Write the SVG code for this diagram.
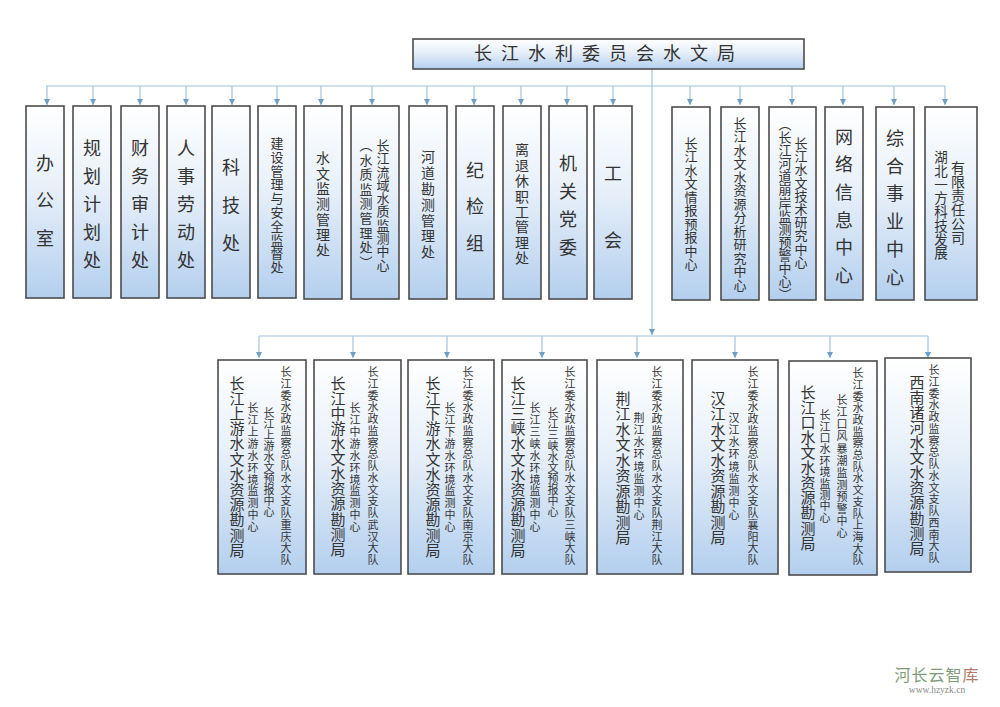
<svg xmlns="http://www.w3.org/2000/svg" width="1000" height="707" viewBox="0 0 1000 707">
<style>
.box{fill:url(#g);stroke:#4d4d4d;stroke-width:1.6}
.v{font-family:"Noto Sans CJK SC","Noto Sans CJK TC",sans-serif;fill:#333;writing-mode:vertical-rl;text-anchor:start}
.t{font-family:"Noto Sans CJK SC",sans-serif;fill:#333;font-size:18px}
.c{fill:none;stroke:#9fc3de;stroke-width:1.2}
.a{fill:none;stroke:#9fc3de;stroke-width:1.2;marker-end:url(#ah)}
</style>
<defs>
<linearGradient id="g" x1="0" y1="0" x2="0" y2="1">
<stop offset="0" stop-color="#ffffff"/>
<stop offset="0.45" stop-color="#e6eff9"/>
<stop offset="1" stop-color="#b3cfee"/>
</linearGradient>
<marker id="ah" markerUnits="userSpaceOnUse" markerWidth="7" markerHeight="7" refX="6" refY="3" orient="auto">
<path d="M0,0 L6,3 L0,6 z" fill="#6d9ec6"/>
</marker>
</defs>
<rect width="1000" height="707" fill="#ffffff"/>

<g id="connectors">
<line class="a" x1="652" y1="69" x2="652" y2="335"/>
<line class="c" x1="46" y1="86" x2="945" y2="86"/>
<line class="a" x1="47" y1="86" x2="47" y2="105"/>
<line class="a" x1="93" y1="86" x2="93" y2="105"/>
<line class="a" x1="140" y1="86" x2="140" y2="105"/>
<line class="a" x1="186" y1="86" x2="186" y2="105"/>
<line class="a" x1="232" y1="86" x2="232" y2="105"/>
<line class="a" x1="277" y1="86" x2="277" y2="105"/>
<line class="a" x1="321" y1="86" x2="321" y2="105"/>
<line class="a" x1="372" y1="86" x2="372" y2="105"/>
<line class="a" x1="427" y1="86" x2="427" y2="105"/>
<line class="a" x1="474" y1="86" x2="474" y2="105"/>
<line class="a" x1="521" y1="86" x2="521" y2="105"/>
<line class="a" x1="567" y1="86" x2="567" y2="105"/>
<line class="a" x1="613" y1="86" x2="613" y2="105"/>
<line class="a" x1="690" y1="86" x2="690" y2="105"/>
<line class="a" x1="740" y1="86" x2="740" y2="105"/>
<line class="a" x1="792" y1="86" x2="792" y2="105"/>
<line class="a" x1="843" y1="86" x2="843" y2="105"/>
<line class="a" x1="894" y1="86" x2="894" y2="105"/>
<line class="a" x1="945" y1="86" x2="945" y2="105"/>
<line class="c" x1="259" y1="336" x2="928" y2="336"/>
<line class="a" x1="259" y1="336" x2="259" y2="358"/>
<line class="a" x1="353" y1="336" x2="353" y2="358"/>
<line class="a" x1="447" y1="336" x2="447" y2="358"/>
<line class="a" x1="542" y1="336" x2="542" y2="358"/>
<line class="a" x1="637" y1="336" x2="637" y2="358"/>
<line class="a" x1="735" y1="336" x2="735" y2="358"/>
<line class="a" x1="830" y1="336" x2="830" y2="358"/>
<line class="a" x1="928" y1="336" x2="928" y2="358"/>
</g>

<g id="title">
<rect class="box" x="413" y="39" width="391" height="30"/>
<text class="t" x="609" y="60" text-anchor="middle" letter-spacing="9">长江水利委员会水文局</text>
</g>

<g id="n1"><rect class="box" x="26" y="106" width="38" height="192"/>
<text class="v" x="45" y="154" font-size="18" letter-spacing="19.5">办公室</text></g>
<g id="n2"><rect class="box" x="73" y="106" width="38" height="192"/>
<text class="v" x="92" y="139" font-size="18" letter-spacing="10">规划计划处</text></g>
<g id="n3"><rect class="box" x="121" y="106" width="38" height="192"/>
<text class="v" x="140" y="139" font-size="18" letter-spacing="10">财务审计处</text></g>
<g id="n4"><rect class="box" x="167" y="106" width="38" height="192"/>
<text class="v" x="186" y="139" font-size="18" letter-spacing="10">人事劳动处</text></g>
<g id="n5"><rect class="box" x="212" y="106" width="38" height="192"/>
<text class="v" x="231" y="158" font-size="18" letter-spacing="20">科技处</text></g>
<g id="n6"><rect class="box" x="258" y="106" width="38" height="192"/>
<text class="v" x="277" y="136.5" font-size="13" letter-spacing="0.8">建设管理与安全监督处</text></g>
<g id="n7"><rect class="box" x="304" y="106" width="38" height="193"/>
<text class="v" x="323" y="151" font-size="14" letter-spacing="1.3">水文监测管理处</text></g>
<g id="n8"><rect class="box" x="351" y="106" width="48" height="193"/>
<text class="v" x="383" y="138.5" font-size="13" letter-spacing="0.3">长江流域水质监测中心</text>
<text class="v" x="366" y="138.5" font-size="13" letter-spacing="1.6">（水质监测管理处）</text></g>
<g id="n9"><rect class="box" x="409" y="106" width="38" height="193"/>
<text class="v" x="428" y="150" font-size="14" letter-spacing="1.8">河道勘测管理处</text></g>
<g id="n10"><rect class="box" x="456" y="106" width="38" height="193"/>
<text class="v" x="475" y="161" font-size="18" letter-spacing="18.5">纪检组</text></g>
<g id="n11"><rect class="box" x="503" y="106" width="38" height="193"/>
<text class="v" x="522" y="143" font-size="14" letter-spacing="1.4">离退休职工管理处</text></g>
<g id="n12"><rect class="box" x="549" y="106" width="38" height="193"/>
<text class="v" x="568" y="154" font-size="18" letter-spacing="10">机关党委</text></g>
<g id="n13"><rect class="box" x="594" y="106" width="38" height="193"/>
<text class="v" x="613" y="164" font-size="18" letter-spacing="49">工会</text></g>
<g id="n14"><rect class="box" x="672" y="107" width="38" height="193"/>
<text class="v" x="691" y="136.5" font-size="13" letter-spacing="0.5">长江水文情报预报中心</text></g>
<g id="n15"><rect class="box" x="721" y="107" width="38" height="193"/>
<text class="v" x="740" y="116.5" font-size="13" letter-spacing="0.5">长江水文水资源分析研究中心</text></g>
<g id="n16"><rect class="box" x="769" y="107" width="47" height="193"/>
<text class="v" x="801" y="136.5" font-size="13" letter-spacing="0.2">长江水文技术研究中心</text>
<text class="v" x="785" y="117.5" font-size="13" letter-spacing="0.1">（长江河道崩岸监测预警中心）</text></g>
<g id="n17"><rect class="box" x="825" y="107" width="38" height="193"/>
<text class="v" x="844" y="128" font-size="18" letter-spacing="9.6">网络信息中心</text></g>
<g id="n18"><rect class="box" x="876" y="107" width="38" height="193"/>
<text class="v" x="895" y="129" font-size="18" letter-spacing="9.8">综合事业中心</text></g>
<g id="n19"><rect class="box" x="925" y="107" width="52" height="193"/>
<text class="v" x="958" y="161" font-size="14" letter-spacing="0">有限责任公司</text>
<text class="v" x="941" y="150.5" font-size="13.5" letter-spacing="0.2">湖北一方科技发展</text></g>

<g id="b1"><rect class="box" x="218" y="360" width="88" height="214"/>
<text class="v" x="237" y="375.5" font-size="15" letter-spacing="0.2">长江上游水文水资源勘测局</text>
<text class="v" x="253" y="402.5" font-size="11" letter-spacing="0.9">长江上游水环境监测中心</text>
<text class="v" x="269" y="407.5" font-size="11" letter-spacing="0">长江上游水文预报中心</text>
<text class="v" x="286" y="366.5" font-size="11" letter-spacing="0.75">长江委水政监察总队水文支队重庆大队</text></g>
<g id="b2"><rect class="box" x="314" y="360" width="87" height="214"/>
<text class="v" x="338" y="375.5" font-size="15" letter-spacing="0.1">长江中游水文水资源勘测局</text>
<text class="v" x="355" y="402.5" font-size="11" letter-spacing="0.9">长江中游水环境监测中心</text>
<text class="v" x="373" y="366.5" font-size="11" letter-spacing="0.75">长江委水政监察总队水文支队武汉大队</text></g>
<g id="b3"><rect class="box" x="408" y="360" width="86" height="214"/>
<text class="v" x="433" y="375.5" font-size="15" letter-spacing="0.2">长江下游水文水资源勘测局</text>
<text class="v" x="450" y="402.5" font-size="11" letter-spacing="0.9">长江下游水环境监测中心</text>
<text class="v" x="468" y="366.5" font-size="11" letter-spacing="0.75">长江委水政监察总队水文支队南京大队</text></g>
<g id="b4"><rect class="box" x="502" y="360" width="85" height="214"/>
<text class="v" x="518" y="375.5" font-size="15" letter-spacing="0.2">长江三峡水文水资源勘测局</text>
<text class="v" x="535" y="402.5" font-size="11" letter-spacing="0.9">长江三峡水环境监测中心</text>
<text class="v" x="553" y="407.5" font-size="11" letter-spacing="0">长江三峡水文预报中心</text>
<text class="v" x="570" y="366.5" font-size="11" letter-spacing="0.75">长江委水政监察总队水文支队三峡大队</text></g>
<g id="b5"><rect class="box" x="597" y="360" width="86" height="214"/>
<text class="v" x="623" y="390.5" font-size="15" letter-spacing="0.5">荆江水文水资源勘测局</text>
<text class="v" x="639" y="412.5" font-size="11" letter-spacing="1.1">荆江水环境监测中心</text>
<text class="v" x="657" y="366.5" font-size="11" letter-spacing="0.75">长江委水政监察总队水文支队荆江大队</text></g>
<g id="b6"><rect class="box" x="692" y="360" width="86" height="214"/>
<text class="v" x="718" y="390.5" font-size="15" letter-spacing="0.5">汉江水文水资源勘测局</text>
<text class="v" x="734" y="412.5" font-size="11" letter-spacing="1.1">汉江水环境监测中心</text>
<text class="v" x="753" y="366.5" font-size="11" letter-spacing="0.75">长江委水政监察总队水文支队襄阳大队</text></g>
<g id="b7"><rect class="box" x="789" y="361" width="88" height="214"/>
<text class="v" x="808" y="384.5" font-size="15" letter-spacing="0.1">长江口水文水资源勘测局</text>
<text class="v" x="825" y="409.5" font-size="11" letter-spacing="0.4">长江口水环境监测中心</text>
<text class="v" x="842" y="394.5" font-size="11" letter-spacing="1.1">长江口风暴潮监测预警中心</text>
<text class="v" x="858" y="367.5" font-size="11" letter-spacing="0.7">长江委水政监察总队水文支队上海大队</text></g>
<g id="b8"><rect class="box" x="885" y="358" width="86" height="214"/>
<text class="v" x="917" y="374.5" font-size="15" letter-spacing="0.1">西南诸河水文水资源勘测局</text>
<text class="v" x="934" y="364.5" font-size="11" letter-spacing="0.75">长江委水政监察总队水文支队西南大队</text></g>

<g id="watermark">
<text x="937" y="681" text-anchor="middle" font-family="Noto Sans CJK SC,sans-serif" font-size="16" letter-spacing="1"><tspan fill="#7f9c7a">河长云智</tspan><tspan fill="#b27d6e">库</tspan></text>
<text x="937" y="693" text-anchor="middle" font-family="Liberation Serif,serif" font-size="9.5" fill="#8a8a8a">www.hzyzk.cn</text>
</g>
</svg>
